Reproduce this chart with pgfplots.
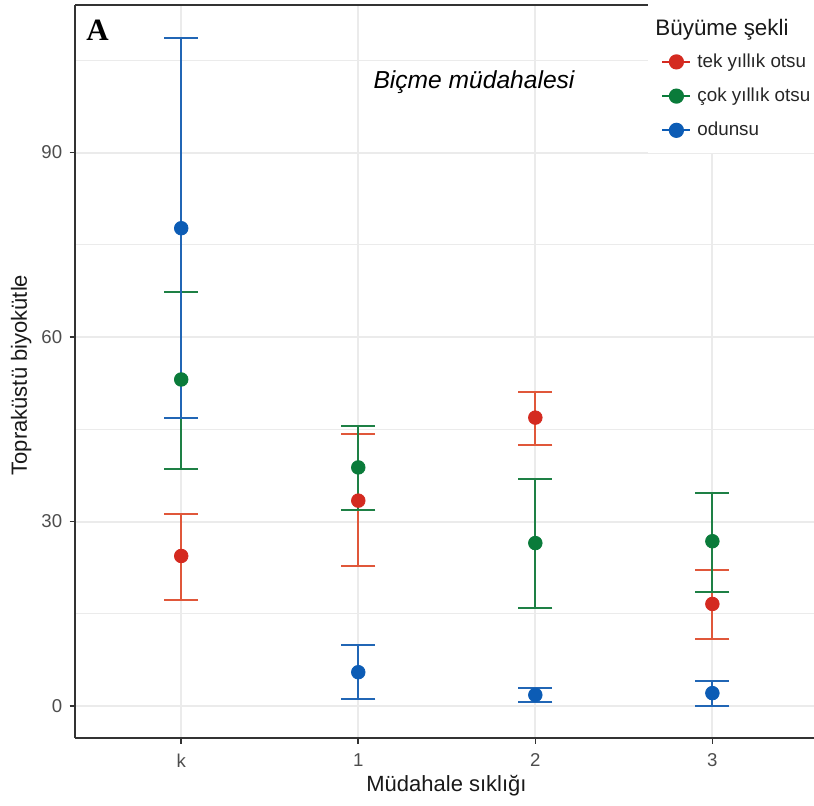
\documentclass[border=0pt]{standalone}
\usepackage{fontspec}
\setmainfont{Liberation Sans}
\newfontfamily\serifbf{Liberation Serif}
\usepackage{pgfplots}
\pgfplotsset{compat=1.18}
\usepackage{pgfplotstable}
\definecolor{tekc}{HTML}{D42A20}
\definecolor{tekl}{HTML}{E0573A}
\definecolor{cokc}{HTML}{0A7B3A}
\definecolor{cokl}{HTML}{1E8045}
\definecolor{odc}{HTML}{0C5CB5}
\definecolor{odl}{HTML}{2166B5}
\definecolor{gridc}{HTML}{EBEBEB}
\definecolor{axc}{HTML}{333333}
\definecolor{tickc}{HTML}{4D4D4D}

% x: 0=k, 1, 2, 3 ; y = mean ; ep/em = upper/lower error
\pgfplotstableread{
x y ep em
0 24.4 6.8 7.2
1 33.4 10.8 10.7
2 46.9 4.2 4.4
3 16.6 5.6 5.7
}\tek
\pgfplotstableread{
x y ep em
0 53.1 14.3 14.6
1 38.8 6.8 7.0
2 26.5 10.4 10.5
3 26.8 7.8 8.2
}\cok
\pgfplotstableread{
x y ep em
0 77.7 30.9 30.9
1 5.5 4.4 4.4
2 1.8 1.2 1.1
3 2.1 1.9 2.1
}\odun

\begin{document}
\begin{tikzpicture}
\useasboundingbox (-37.5pt,-33.5pt) rectangle (369.5pt,369pt);
\begin{axis}[
  scale only axis, width=369.5pt, height=366.5pt,
  at={(0pt,0pt)}, anchor=south west,
  xmin=-0.6, xmax=3.574, ymin=-5.2, ymax=114,
  axis x line*=bottom, axis y line*=left,
  axis line style={axc, line width=0.9pt, -},
  xtick={0,1,2,3}, xticklabels={k,1,2,3},
  ytick={0,30,60,90}, minor ytick={15,45,75,105},
  grid=both,
  major grid style={gridc, line width=1pt},
  minor grid style={gridc, line width=0.5pt},
  tick align=outside, major tick length=2.75pt, minor tick length=0pt,
  tick style={axc, line width=0.8pt},
  tick label style={font=\fontsize{9.3}{11}\selectfont, text=tickc},
  xticklabel style={anchor=north, inner sep=0pt, yshift=-5pt},
  yticklabel style={anchor=east, inner sep=0pt, xshift=-3.5pt},
  /pgf/number format/assume math mode=true,
  clip=false,
  legend cell align=left,
  legend style={at={(axis description cs:0.793,0.937)}, anchor=north west,
    draw=none, fill=none, font=\fontsize{9.4}{11}\selectfont, text=black!85,
    row sep=6.8pt, inner sep=0pt, column sep=2pt, nodes={inner sep=1pt, anchor=west}},
  legend image code/.code={\draw[mark repeat=2,mark phase=2,#1] plot coordinates {(0pt,0pt) (7pt,0pt) (14pt,0pt)};},
]
% error bars
\addplot[forget plot, draw=none, mark=none,
  error bars/.cd, y dir=both, y explicit,
  error bar style={draw=tekl, line width=1pt},
  error mark options={draw=tekl, rotate=90, line width=1pt, mark size=8.5pt}]
  table[x=x, y=y, y error plus=ep, y error minus=em]{\tek};
\addplot[forget plot, draw=none, mark=none,
  error bars/.cd, y dir=both, y explicit,
  error bar style={draw=cokl, line width=1pt},
  error mark options={draw=cokl, rotate=90, line width=1pt, mark size=8.5pt}]
  table[x=x, y=y, y error plus=ep, y error minus=em]{\cok};
\addplot[forget plot, draw=none, mark=none,
  error bars/.cd, y dir=both, y explicit,
  error bar style={draw=odl, line width=1pt},
  error mark options={draw=odl, rotate=90, line width=1pt, mark size=8.5pt}]
  table[x=x, y=y, y error plus=ep, y error minus=em]{\odun};
% points
\addplot[forget plot, only marks, mark=*, mark size=3.4pt, color=tekc, mark options={draw=tekc, fill=tekc}]
  table[x=x, y=y]{\tek};
\addplot[forget plot, only marks, mark=*, mark size=3.4pt, color=cokc, mark options={draw=cokc, fill=cokc}]
  table[x=x, y=y]{\cok};
\addplot[forget plot, only marks, mark=*, mark size=3.4pt, color=odc, mark options={draw=odc, fill=odc}]
  table[x=x, y=y]{\odun};
% white legend background and top border
\fill[white] (axis description cs:0.7754,0.798) rectangle (axis description cs:1.01,1.01);
\draw[axc, line width=0.9pt] (axis description cs:0,1) -- (axis description cs:0.7754,1);
% legend
\addlegendimage{tekc, line width=1pt, mark=*, mark size=3.3pt, mark options={fill=tekc}}
\addlegendentry{tek yıllık otsu}
\addlegendimage{cokc, line width=1pt, mark=*, mark size=3.3pt, mark options={fill=cokc}}
\addlegendentry{çok yıllık otsu}
\addlegendimage{odc, line width=1pt, mark=*, mark size=3.3pt, mark options={fill=odc}}
\addlegendentry{odunsu}
\end{axis}
\node[anchor=base west, inner sep=0pt, font=\fontsize{11.2}{13}\selectfont, text=black!90] at (290pt,351.25pt) {Büyüme şekli};
\node[anchor=base west, inner sep=0pt, font=\serifbf\bfseries\fontsize{15.5}{17}\selectfont] at (5.5pt,348.5pt) {A};
\node[anchor=base, inner sep=0pt, font=\itshape\fontsize{12.3}{14}\selectfont] at (199.5pt,324.85pt) {Biçme müdahalesi};
\node[anchor=base, inner sep=0pt, font=\fontsize{11}{13}\selectfont, text=black!90] at (185.75pt,-26.85pt) {Müdahale sıklığı};
\node[anchor=base, inner sep=0pt, rotate=90, font=\fontsize{11}{13}\selectfont, text=black!90] at (-24pt,181.5pt) {Topraküstü biyokütle};
\end{tikzpicture}
\end{document}
